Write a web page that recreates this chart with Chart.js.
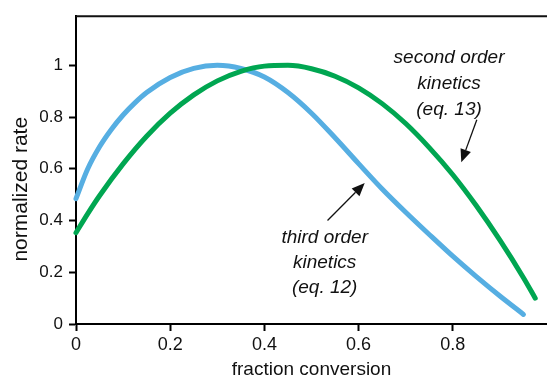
<!DOCTYPE html>
<html>
<head>
    <title>Normalized rate vs fraction conversion</title>
    <script src="https://cdn.jsdelivr.net/npm/chart.js"></script>
    <style>
        body { margin: 0; background: #fff; }
    </style>
</head>
<body>
    <canvas id="rateChart" width="547" height="380"></canvas>
    <script>
        // third order kinetics (eq. 12)
        const conversion3 = [0, 0.025, 0.05, 0.075, 0.1, 0.125, 0.15, 0.2, 0.25, 0.3, 0.35, 0.4, 0.45, 0.5, 0.55, 0.6, 0.65, 0.7, 0.75, 0.8, 0.85, 0.9, 0.95];
        const rate3 = [0.485, 0.6, 0.685, 0.752, 0.808, 0.855, 0.895, 0.953, 0.988, 1.0, 0.988, 0.955, 0.895, 0.815, 0.72, 0.62, 0.522, 0.432, 0.346, 0.262, 0.183, 0.108, 0.037];

        // second order kinetics (eq. 13)
        const conversion2 = [0, 0.025, 0.05, 0.1, 0.15, 0.2, 0.25, 0.3, 0.35, 0.4, 0.45, 0.5, 0.55, 0.6, 0.65, 0.7, 0.75, 0.8, 0.85, 0.9, 0.95, 0.975];
        const rate2 = [0.353, 0.427, 0.496, 0.619, 0.726, 0.815, 0.886, 0.94, 0.977, 0.997, 1.0, 0.987, 0.958, 0.913, 0.852, 0.775, 0.682, 0.577, 0.457, 0.324, 0.179, 0.1];

        const xTicks = [0, 0.2, 0.4, 0.6, 0.8];
        const yTicks = [0, 0.2, 0.4, 0.6, 0.8, 1];

        const BLUE = 'rgb(86, 174, 226)';
        const GREEN = 'rgb(0, 166, 81)';
        const INK = '#111';
        const FAMILY = '"Liberation Sans", Arial, sans-serif';

        function toPoints(xs, ys) {
            return xs.map((x, i) => ({ x: x, y: ys[i] }));
        }

        function arrow(ctx, x0, y0, x1, y1) {
            const ang = Math.atan2(y1 - y0, x1 - x0);
            const len = 13, half = 5.5;
            const bx = x1 - len * Math.cos(ang), by = y1 - len * Math.sin(ang);
            ctx.beginPath();
            ctx.moveTo(x0, y0);
            ctx.lineTo(bx, by);
            ctx.stroke();
            ctx.beginPath();
            ctx.moveTo(x1, y1);
            ctx.lineTo(bx + half * Math.sin(ang), by - half * Math.cos(ang));
            ctx.lineTo(bx - half * Math.sin(ang), by + half * Math.cos(ang));
            ctx.closePath();
            ctx.fill();
        }

        // curve labels with arrows (data units), y-axis title, top frame line
        const curveNotes = {
            id: 'curveNotes',
            afterDatasetsDraw(chart) {
                const { ctx, chartArea, scales: { x, y } } = chart;
                ctx.save();
                ctx.font = 'italic 19px ' + FAMILY;
                ctx.fillStyle = INK;
                ctx.strokeStyle = INK;
                ctx.lineWidth = 1.3;
                ctx.textAlign = 'center';
                ctx.textBaseline = 'middle';

                const cx2 = x.getPixelForValue(0.792);
                ['second order', 'kinetics', '(eq. 13)'].forEach((t, i) => {
                    ctx.fillText(t, cx2, y.getPixelForValue(1.03 - i * 0.1));
                });
                arrow(ctx, x.getPixelForValue(0.851), y.getPixelForValue(0.79),
                           x.getPixelForValue(0.818), y.getPixelForValue(0.625));

                const cx3 = x.getPixelForValue(0.528);
                ['third order', 'kinetics', '(eq. 12)'].forEach((t, i) => {
                    ctx.fillText(t, cx3, y.getPixelForValue(0.334 - i * 0.097));
                });
                arrow(ctx, x.getPixelForValue(0.534), y.getPixelForValue(0.4),
                           x.getPixelForValue(0.613), y.getPixelForValue(0.545));

                // y-axis title, sitting a little below the axis middle
                ctx.font = '21px ' + FAMILY;
                ctx.translate(21, y.getPixelForValue(0.521));
                ctx.rotate(-Math.PI / 2);
                ctx.fillText('normalized rate', 0, 0);
                ctx.setTransform(1, 0, 0, 1, 0, 0);

                ctx.lineWidth = 2;
                ctx.beginPath();
                ctx.moveTo(chartArea.left, chartArea.top);
                ctx.lineTo(chart.width, chartArea.top);
                ctx.stroke();
                ctx.restore();
            }
        };

        new Chart(document.getElementById('rateChart'), {
            type: 'scatter',
            data: {
                datasets: [
                    {
                        label: 'second order kinetics (eq. 13)',
                        data: toPoints(conversion2, rate2),
                        showLine: true,
                        borderColor: GREEN,
                        borderWidth: 5,
                        borderCapStyle: 'round',
                        pointRadius: 0,
                        cubicInterpolationMode: 'monotone',
                        clip: false
                    },
                    {
                        label: 'third order kinetics (eq. 12)',
                        data: toPoints(conversion3, rate3),
                        showLine: true,
                        borderColor: BLUE,
                        borderWidth: 5,
                        borderCapStyle: 'round',
                        pointRadius: 0,
                        cubicInterpolationMode: 'monotone',
                        clip: false
                    }
                ]
            },
            options: {
                responsive: false,
                animation: false,
                layout: { padding: { top: 13, right: 0, left: 0, bottom: 0 } },
                plugins: {
                    legend: { display: false },
                    tooltip: { enabled: false }
                },
                scales: {
                    x: {
                        type: 'linear',
                        min: 0,
                        max: 1,
                        afterBuildTicks: s => { s.ticks = xTicks.map(v => ({ value: v })); },
                        afterFit: s => { s.height = 56; },
                        ticks: { font: { family: FAMILY, size: 18 }, color: INK, padding: 3, maxRotation: 0, callback: v => String(v) },
                        grid: { drawOnChartArea: false, tickLength: 7, tickWidth: 2, color: '#000' },
                        border: { color: '#000', width: 2 },
                        title: {
                            display: true,
                            text: 'fraction conversion',
                            font: { family: FAMILY, size: 19 },
                            color: INK,
                            padding: { top: 0, bottom: -1 }
                        }
                    },
                    y: {
                        type: 'linear',
                        min: 0,
                        max: 1.19,
                        afterBuildTicks: s => { s.ticks = yTicks.map(v => ({ value: v })); },
                        afterFit: s => { s.width = 76; },
                        ticks: { font: { family: FAMILY, size: 17 }, color: INK, padding: 6, callback: v => String(v) },
                        grid: { drawOnChartArea: false, tickLength: 7, tickWidth: 2, color: '#000' },
                        border: { color: '#000', width: 2 }
                    }
                }
            },
            plugins: [curveNotes]
        });
    </script>
</body>
</html>
